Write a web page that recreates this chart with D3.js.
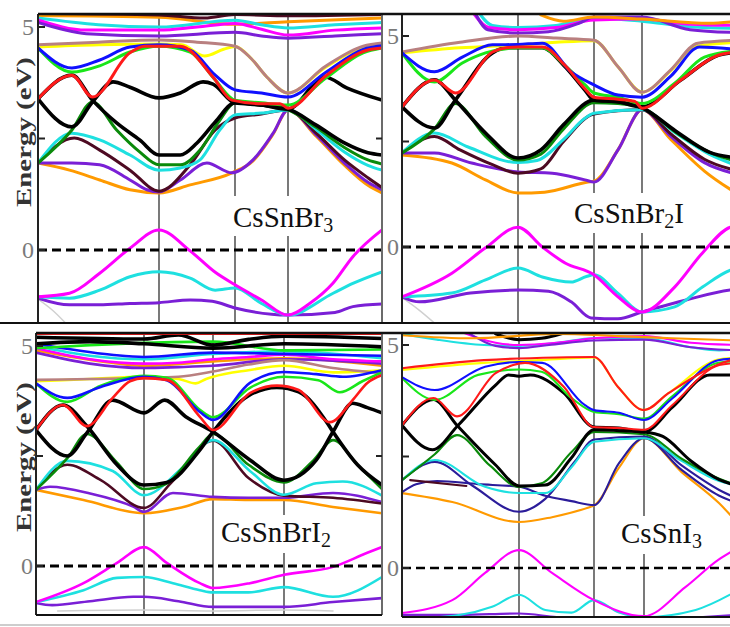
<!DOCTYPE html>
<html><head><meta charset="utf-8">
<script src="https://cdn.jsdelivr.net/npm/d3@7"></script>
<style>html,body{margin:0;padding:0;background:#fff}</style>
</head><body><svg id="chart" width="730" height="627"></svg>
<script>
// Band colours, keyed by short band names used in the data below
const bandColors = {
  mag:"#ff00ff", cyn:"#1ee0e0", vio:"#7a1fd6", ind:"#2b1c9a", ora:"#ff9a00",
  mar:"#4d0a22", dgr:"#0a8a0a", blk:"#000000", red:"#ff1a1a", grn:"#19e619",
  blu:"#1010ff", yel:"#ffff00", brn:"#b98080", gry:"#d0d0d0"
};

// k is the path coordinate: integers are the high-symmetry points, E in eV
const bandsCsSnBr3 = [
  ["ora",[[0,5.26],[1,5.22],[2,5.06],[3,5.12],[4,5.2]]],
  ["cyn",[[0,5.2],[0.5,5.05],[1,5.0],[2,5.15],[2.5,5.05],[3,4.98],[3.5,5.05],[4,5.1]]],
  ["mag",[[0,5.16],[0.4,4.93],[1,4.93],[1.5,5.0],[2,5.08],[2.5,4.95],[3,4.82],[3.5,4.93],[4,4.98]]],
  ["vio",[[0,5.1],[0.4,4.85],[1,4.8],[2,4.88],[2.5,4.8],[3,4.75],[3.5,4.8],[4,4.85]]],
  ["mar",[[0,5.3],[1,5.27],[1.6,5.2],[2,5.28],[3,5.25],[4,5.28]]],
  ["ora",[[0,1.95],[0.26,1.79],[0.51,1.57],[0.76,1.35],[1,1.28],[1.41,1.46],[1.96,1.73],[2.34,2.0],[2.72,2.6],[3,3.14],[3.3,2.55],[3.6,1.9],[3.85,1.45],[4,1.28]]],
  ["vio",[[0,1.95],[0.28,1.95],[0.51,1.91],[0.76,1.57],[0.9,1.35],[1,1.3],[1.28,1.57],[1.63,1.95],[1.96,1.73],[2.34,2.02],[2.72,2.62],[3,3.14],[3.3,2.58],[3.6,1.95],[3.85,1.52],[4,1.35]]],
  ["mar",[[0,1.95],[0.3,2.51],[0.51,2.24],[0.76,1.79],[1,1.32],[1.41,1.91],[1.74,2.69],[2,2.96],[2.5,3.05],[3,3.14],[3.3,2.62],[3.6,2.02],[3.85,1.62],[4,1.4]]],
  ["cyn",[[0,1.95],[0.28,2.62],[0.51,2.47],[0.76,2.13],[1,1.79],[1.28,1.84],[1.54,2.02],[1.8,2.69],[2,3.03],[2.5,3.07],[3,3.14],[3.3,2.7],[3.6,2.2],[3.85,1.9],[4,1.79]]],
  ["dgr",[[0,1.95],[0.28,2.69],[0.45,3.32],[0.65,2.69],[0.84,2.2],[1,1.91],[1.28,1.91],[1.54,2.24],[1.8,2.91],[2,3.3],[2.5,3.25],[3,3.14],[3.3,2.75],[3.6,2.3],[3.85,2.02],[4,1.93]]],
  ["blk",[[0,3.39],[0.28,3.92],[0.45,3.36],[0.65,2.85],[0.84,2.47],[1,2.13],[1.28,2.13],[1.5,2.4],[1.74,2.87],[2,3.3],[2.5,3.25],[3,3.16],[3.3,2.8],[3.6,2.4],[3.85,2.18],[4,2.13]]],
  ["blk",[[0,3.39],[0.28,2.76],[0.45,3.32],[0.62,3.77],[0.76,3.65],[1,3.41],[1.28,3.52],[1.58,3.77],[1.71,3.72],[2,3.3],[2.5,3.25],[3,3.16],[3.39,3.88],[3.63,3.63],[4,3.36]]],
  ["yel",[[0,4.55],[0.5,4.6],[1,4.62],[1.3,4.6],[1.6,4.35],[1.85,4.5],[2,4.56],[2.3,4.3],[2.6,3.88],[3,3.52],[3.4,4.1],[3.8,4.55],[4,4.62]]],
  ["brn",[[0,4.6],[0.5,4.66],[1,4.71],[1.5,4.66],[2,4.57],[2.3,4.3],[2.6,3.88],[3,3.52],[3.4,4.12],[3.8,4.57],[4,4.64]]],
  ["grn",[[0,4.53],[0.28,3.99],[0.51,4.13],[0.76,4.44],[1,4.57],[1.41,4.44],[1.74,3.81],[2,3.36],[2.5,3.3],[3,3.25],[3.4,3.85],[3.8,4.42],[4,4.53]]],
  ["blu",[[0,4.53],[0.28,4.08],[0.51,4.26],[0.76,4.55],[1,4.6],[1.41,4.48],[1.74,3.92],[2,3.59],[2.5,3.52],[3,3.43],[3.4,3.98],[3.8,4.5],[4,4.58]]],
  ["red",[[0,3.39],[0.28,3.92],[0.45,3.43],[0.76,4.42],[0.88,4.57],[1,4.57],[1.28,4.57],[1.71,3.88],[1.96,3.36],[2.5,3.28],[2.85,3.28],[3,3.18],[3.4,3.9],[3.84,4.48],[4,4.53]]],
  ["gry",[[0,-1.1],[0.12,-1.35],[0.25,-1.7]]],
  ["vio",[[0,-1.08],[0.26,-1.23],[0.51,-1.23],[0.76,-1.2],[1,-1.18],[1.41,-1.12],[1.7,-1.15],[2,-1.3],[3,-1.46],[3.5,-1.4],[3.69,-1.27],[4,-1.21]]],
  ["cyn",[[0,-1.05],[0.26,-1.08],[0.51,-0.9],[0.76,-0.6],[1,-0.49],[1.41,-0.63],[1.74,-0.9],[2,-0.85],[2.5,-1.2],[3,-1.46],[3.48,-0.97],[3.69,-0.75],[4,-0.49]]],
  ["mag",[[0,-1.05],[0.26,-0.97],[0.51,-0.52],[0.76,0.04],[1,0.45],[1.41,-0.02],[1.74,-0.5],[2,-0.78],[2.5,-1.12],[3,-1.46],[3.23,-1.2],[3.48,-0.74],[3.69,-0.15],[4,0.45]]]
];

const bandsCsSnBr2I = [
  ["cyn",[[0.65,5.6],[0.78,5.25],[1,5.2],[1.5,5.25],[2,5.42],[3,5.35],[3.5,5.22],[4,5.18]]],
  ["mag",[[0.6,5.6],[0.75,5.2],[1,5.15],[1.5,5.2],[2,5.38],[3,5.4],[3.5,5.28],[4,5.25]]],
  ["vio",[[0.62,5.6],[0.74,5.15],[1,5.07],[1.4,5.1],[1.8,5.3],[2,5.45],[3,5.45],[3.5,5.15],[4,5.08]]],
  ["ora",[[1.3,5.5],[1.6,5.35],[2,5.45],[3,5.4],[3.7,5.3],[4,5.35]]],
  ["ora",[[0,2.18],[0.43,1.99],[0.72,1.59],[1,1.28],[1.35,1.3],[1.92,1.54],[2,1.56],[2.5,2.3],[3,3.25],[3.3,2.55],[3.65,1.8],[4,1.25]]],
  ["vio",[[0,2.23],[0.28,2.23],[0.6,1.99],[1,1.78],[1.45,1.75],[1.88,1.59],[2,1.54],[2.5,2.3],[3,3.25],[3.3,2.62],[3.65,2.0],[4,1.72]]],
  ["mar",[[0,2.23],[0.28,2.62],[0.5,2.3],[0.78,1.95],[1,1.75],[1.3,1.85],[1.6,2.5],[2,3.15],[3,3.25],[3.3,2.68],[3.65,2.08],[4,1.8]]],
  ["cyn",[[0,2.23],[0.28,2.7],[0.57,2.37],[1,2.0],[1.25,2.05],[1.6,2.55],[1.88,3.05],[2,3.17],[3,3.25],[3.35,2.7],[3.7,2.2],[4,1.92]]],
  ["dgr",[[0,2.23],[0.28,2.8],[0.46,3.4],[0.72,2.62],[1,2.06],[1.3,2.2],[1.6,2.8],[2,3.42],[2.5,3.4],[3,3.3],[3.35,2.72],[3.7,2.25],[4,2.02]]],
  ["blk",[[0,3.32],[0.28,3.96],[0.46,3.48],[0.72,2.7],[1,2.11],[1.3,2.3],[1.6,2.9],[2,3.48],[2.5,3.44],[3,3.3],[3.35,2.75],[3.7,2.25],[4,2.11]]],
  ["blk",[[0,3.32],[0.28,2.82],[0.46,3.48],[0.78,4.6],[0.9,4.72],[1,4.72],[1.32,4.72],[1.62,4.27],[1.88,3.72],[2,3.48],[2.5,3.44],[3,3.32],[3.4,3.95],[3.8,4.55],[4,4.62]]],
  ["yel",[[0,4.6],[0.5,4.72],[1,4.79],[1.5,4.85],[2,4.89],[2.5,4.27],[3,3.67],[3.3,4.18],[3.55,4.75],[4,4.85]]],
  ["brn",[[0,4.62],[0.5,4.85],[1,5.0],[1.5,4.95],[2,4.9],[2.5,4.27],[3,3.67],[3.3,4.2],[3.58,4.83],[4,4.9]]],
  ["grn",[[0,4.6],[0.28,3.91],[0.52,4.36],[0.72,4.6],[1,4.72],[1.32,4.72],[1.62,4.3],[1.88,3.85],[2,3.65],[2.5,3.55],[3,3.4],[3.35,3.9],[3.65,4.5],[4,4.65]]],
  ["blu",[[0,4.6],[0.28,4.15],[0.52,4.5],[0.78,4.79],[1,4.8],[1.32,4.83],[1.7,4.15],[2,3.84],[2.5,3.6],[3,3.55],[3.3,4.05],[3.6,4.74],[4,4.68]]],
  ["red",[[0,3.32],[0.28,3.96],[0.46,3.65],[0.78,4.62],[0.9,4.72],[1,4.74],[1.32,4.74],[1.62,4.3],[1.88,3.75],[2,3.55],[2.5,3.5],[2.85,3.45],[3,3.29],[3.4,3.95],[3.8,4.55],[4,4.62]]],
  ["gry",[[0,-1.2],[0.15,-1.5],[0.3,-1.85]]],
  ["vio",[[0,-1.18],[0.15,-1.3],[0.59,-1.09],[1,-1.02],[1.4,-1.05],[1.7,-1.3],[1.96,-1.68],[2.5,-1.7],[3,-1.54],[3.45,-1.26],[3.92,-1.02],[4,-1.0]]],
  ["cyn",[[0,-1.18],[0.43,-1.09],[0.72,-0.78],[1,-0.5],[1.32,-0.71],[1.7,-0.83],[1.9,-0.7],[2,-0.66],[2.5,-1.1],[3,-1.54],[3.34,-1.42],[3.63,-0.95],[3.92,-0.55],[4,-0.5]]],
  ["mag",[[0,-1.18],[0.43,-0.62],[0.72,-0.02],[1,0.47],[1.32,0.0],[1.62,-0.38],[2,-0.66],[2.5,-1.18],[3,-1.54],[3.34,-0.95],[3.63,-0.14],[3.92,0.47],[4,0.5]]]
];

const bandsCsSnBrI2 = [
  ["ora",[[0,4.9],[0.7,4.62],[1,4.55],[2,4.65],[3,4.72],[4,4.55]]],
  ["vio",[[0,4.85],[0.5,4.6],[1,4.5],[1.5,4.52],[2,4.55],[3,4.7],[4,4.6]]],
  ["mag",[[0,4.95],[0.5,4.7],[1,4.6],[1.5,4.62],[2,4.7],[2.5,4.75],[3,4.8],[3.5,4.7],[4,4.65]]],
  ["cyn",[[0,5.0],[0.5,4.78],[1,4.7],[2,4.82],[3,4.88],[4,4.72]]],
  ["blu",[[0,5.05],[0.7,4.8],[1,4.75],[2,4.85],[3,4.82],[4,4.78]]],
  ["grn",[[0,4.95],[0.5,5.02],[1,5.07],[2,5.1],[3,4.9],[4,4.92]]],
  ["blk",[[0,5.05],[0.5,5.1],[1,5.05],[2,4.95],[3,5.05],[4,4.98]]],
  ["blk",[[0,5.2],[1,5.16],[1.5,5.25],[2,5.02],[2.5,5.15],[3,5.22],[4,5.17]]],
  ["red",[[0,5.28],[2,5.28],[4,5.28]]],
  ["ora",[[0,1.73],[0.44,1.5],[1,1.2],[1.57,1.34],[2,1.52],[2.5,1.5],[3,1.5],[3.5,1.34],[4,1.2]]],
  ["vio",[[0,1.73],[0.13,1.8],[0.5,1.65],[0.9,1.35],[1,1.23],[1.42,1.66],[2,1.57],[2.5,1.55],[3,1.55],[3.5,1.66],[4,1.45]]],
  ["mar",[[0,1.73],[0.29,2.3],[0.6,1.95],[1,1.32],[1.4,1.9],[2,2.85],[2.5,2.0],[3,1.6],[3.5,1.55],[4,1.42]]],
  ["cyn",[[0,1.73],[0.29,2.39],[0.71,2.16],[1,1.61],[1.57,2.25],[2,2.86],[2.52,2.16],[3,1.62],[3.33,1.88],[3.6,1.92],[4,1.6]]],
  ["dgr",[[0,1.73],[0.29,2.45],[0.47,3.0],[0.75,2.35],[1,1.75],[1.3,1.85],[1.8,2.7],[2,3.0],[2.5,2.3],[3,1.9],[3.3,2.4],[3.5,2.86],[3.75,2.3],[4,1.75]]],
  ["blk",[[0,3.09],[0.29,2.5],[0.47,3.02],[0.71,3.77],[1,3.48],[1.3,3.77],[1.6,3.4],[2,3.05],[2.52,2.41],[3,1.95],[3.33,2.41],[3.5,3.05],[3.7,3.7],[3.85,3.6],[4,3.48]]],
  ["blk",[[0,3.09],[0.25,3.66],[0.47,3.18],[0.75,2.3],[1,1.84],[1.33,1.9],[1.81,2.64],[2,3.05],[2.5,3.87],[2.9,4.06],[3.15,3.96],[3.45,3.22],[3.5,3.05],[3.75,2.3],[4,1.84]]],
  ["yel",[[0,4.2],[0.5,4.25],[1,4.3],[1.5,4.25],[1.75,4.15],[1.9,4.25],[2,4.3],[2.5,4.45],[3,4.55],[3.5,4.4],[4,4.45]]],
  ["brn",[[0,4.23],[0.5,4.25],[1,4.27],[1.5,4.3],[2,4.42],[2.5,4.58],[3,4.68],[3.5,4.5],[4,4.38]]],
  ["grn",[[0,4.15],[0.29,3.73],[0.6,4.1],[0.9,4.3],[1,4.32],[1.33,4.28],[1.81,3.55],[2,3.38],[2.52,4.05],[3,4.3],[3.35,4.22],[3.57,3.95],[3.8,4.2],[4,4.4]]],
  ["blu",[[0,4.15],[0.29,3.82],[0.6,4.07],[1,4.3],[1.33,4.22],[1.81,3.5],[2,3.32],[2.52,4.16],[3,4.41],[3.33,4.36],[3.6,4.3],[4,4.45]]],
  ["red",[[0,3.09],[0.25,3.66],[0.47,3.18],[0.71,3.82],[0.87,4.2],[1,4.27],[1.33,4.23],[1.81,3.39],[2,3.09],[2.52,3.93],[2.9,4.1],[3.15,4.0],[3.47,3.27],[3.7,3.77],[3.85,4.16],[4,4.34]]],
  ["gry",[[0.2,-1.02],[1,-1.0],[2,-1.02],[3,-1.0],[3.5,-1.02]]],
  ["vio",[[0,-0.84],[0.15,-0.89],[0.5,-0.8],[0.9,-0.7],[1,-0.7],[1.5,-0.8],[2,-0.93],[3,-0.93],[3.5,-0.82],[4,-0.73]]],
  ["cyn",[[0,-0.82],[0.44,-0.55],[0.75,-0.27],[1,-0.25],[1.42,-0.39],[1.81,-0.55],[2,-0.6],[2.5,-0.6],[3,-0.48],[3.5,-0.7],[4,-0.25]]],
  ["mag",[[0,-0.82],[0.44,-0.39],[0.75,0.07],[1,0.43],[1.33,0.07],[1.81,-0.39],[2,-0.5],[2.52,-0.39],[3,-0.2],[3.5,-0.02],[3.85,0.3],[4,0.43]]]
];

const bandsCsSnI3 = [
  ["cyn",[[0,5.25],[0.3,5.12],[0.7,5.0],[1,4.98],[1.5,5.05],[2,5.15],[3,5.15],[3.5,4.95],[3.8,4.88],[4,4.9]]],
  ["mag",[[0.5,5.3],[0.8,5.05],[1,5.0],[1.5,5.05],[2,5.15],[3,5.2],[3.5,5.05],[4,5.0]]],
  ["vio",[[0.55,5.3],[0.8,4.98],[1,4.93],[1.4,5.0],[2,5.1],[3,5.12],[3.5,4.95],[4,4.88]]],
  ["blk",[[0.8,5.25],[1,5.12],[1.3,5.15],[1.6,5.27]]],
  ["ora",[[0,5.22],[0.6,5.15],[1.5,5.25],[2.5,5.2],[3.3,5.15],[4,5.1]]],
  ["ora",[[0,1.68],[0.43,1.48],[1,1.03],[1.44,1.14],[1.95,1.37],[2,1.4],[2.5,2.25],[3,2.91],[3.4,2.15],[3.8,1.45],[4,1.0]]],
  ["ind",[[0,1.7],[0.12,1.88],[0.3,1.95],[0.65,1.88],[1,1.82],[1.35,1.62],[1.7,1.5],[2,1.41],[2.5,2.35],[3,2.91],[3.4,2.2],[3.8,1.62],[4,1.45]]],
  ["mar",[[0.07,1.97],[0.55,1.84]]],
  ["ind",[[0,1.97],[0.28,2.38],[0.6,1.85],[1,1.26],[1.35,1.55],[1.75,2.4],[2,2.88],[3,2.95],[3.4,2.3],[3.8,1.75],[4,1.55]]],
  ["cyn",[[0,1.97],[0.28,2.42],[0.71,1.82],[1,1.68],[1.35,1.68],[1.7,2.26],[2,2.83],[3,2.91],[3.4,2.4],[3.8,1.95],[4,1.85]]],
  ["dgr",[[0,1.97],[0.28,2.55],[0.47,2.98],[0.75,2.3],[1,1.82],[1.3,1.9],[1.7,2.6],[2,3.05],[3,3.0],[3.4,2.45],[3.8,2.0],[4,1.85]]],
  ["blk",[[0,3.2],[0.27,3.78],[0.47,3.2],[0.8,2.31],[1,1.84],[1.35,1.86],[1.7,2.47],[2,3.1],[2.5,3.08],[3,3.05],[3.2,2.95],[3.5,2.4],[3.8,1.98],[4,1.84]]],
  ["blk",[[0,3.2],[0.26,2.65],[0.48,3.2],[0.8,4.1],[0.91,4.33],[1,4.3],[1.15,4.33],[1.6,3.92],[2,3.16],[2.5,3.14],[3,3.05],[3.3,3.6],[3.7,4.33],[4,4.33]]],
  ["yel",[[0,4.44],[0.7,4.6],[1.25,4.66],[2,4.72],[2.48,4.06],[3,3.54],[3.26,3.92],[3.8,4.68],[4,4.72]]],
  ["grn",[[0,4.26],[0.28,3.77],[0.65,4.33],[1,4.45],[1.3,4.4],[1.7,3.81],[2,3.5],[2.5,3.45],[3,3.35],[3.3,3.85],[3.79,4.6],[4,4.64]]],
  ["blu",[[0,4.28],[0.28,3.99],[0.71,4.51],[1,4.62],[1.31,4.6],[1.88,3.65],[2,3.54],[2.5,3.48],[3,3.32],[3.3,3.8],[3.79,4.66],[4,4.7]]],
  ["red",[[0,3.2],[0.27,3.81],[0.47,3.4],[0.8,4.37],[0.95,4.55],[1.08,4.6],[1.6,4.06],[2,3.16],[2.5,3.14],[3,3.1],[3.3,3.65],[3.8,4.55],[4,4.6]]],
  ["red",[[0,4.48],[0.7,4.66],[1.5,4.72],[2,4.73],[2.48,4.06],[3,3.54],[3.26,3.92],[3.92,4.66],[4,4.7]]],
  ["vio",[[0,-1.05],[0.5,-1.05],[1,-1.02],[1.5,-1.1],[2,-1.15],[3,-1.15],[4,-1.05]]],
  ["cyn",[[0,-1.15],[0.5,-1.05],[0.77,-0.87],[1,-0.6],[1.35,-0.94],[1.7,-1.0],[2,-0.72],[2.5,-1.0],[3,-1.1],[3.55,-0.94],[4,-0.5]]],
  ["mag",[[0,-1.01],[0.43,-0.72],[0.71,-0.11],[1,0.4],[1.44,-0.11],[2,-0.72],[3,-1.08],[3.44,-0.43],[3.79,0.18],[4,0.45]]]
];

// Compound names: [main text, subscript] pairs
const compoundNames = [
  [["CsSnBr",""],["","3"]],
  [["CsSnBr",""],["","2"],["I",""]],
  [["CsSnBrI",""],["","2"]],
  [["CsSnI",""],["","3"]]
];
const energyTicks = [0, 2.5, 5];
const energyTickLabels = ["0", "", "5"];
const bandSets = [bandsCsSnBr3, bandsCsSnBr2I, bandsCsSnBrI2, bandsCsSnI3];

// Panel geometry (pixels)
const panelLayout = [
  {kx:[38,159,235,288,382], top:14, bot:323, y0:250, y5:27, w:3, wb:3.6, zw:3.2,
   label:{x:233,y:227}, box:[228,196,114,40], tickX:34, title:{x:31,y:132}},
  {kx:[402,518,594,642,738], top:14, bot:323, y0:247, y5:36, w:3, wb:3.6, zw:3.2,
   label:{x:574,y:223}, box:[569,193,122,40], tickX:399},
  {kx:[36,144,213,284,382], top:333, bot:615, y0:566, y5:346, w:2.6, wb:3.6, zw:3,
   label:{x:221,y:542}, box:[216,515,130,38], tickX:33, title:{x:31,y:457}},
  {kx:[402,519,594,644,738], top:333, bot:617, y0:568, y5:345, w:2.1, wb:3, zw:2.4,
   label:{x:621,y:543}, box:[616,516,100,38], tickX:399}
];

const W = 730;
const svg = d3.select("#chart");
const defs = svg.append("defs");
const serif = "'Liberation Serif','Times New Roman',serif";

panelLayout.forEach((p, i) => {
  const x = d3.scaleLinear().domain([0,1,2,3,4]).range(p.kx);
  const y = d3.scaleLinear().domain([0,5]).range([p.y0, p.y5]);
  const xL = p.kx[0], xR = Math.min(p.kx[4], W);
  const g = svg.append("g");

  defs.append("clipPath").attr("id","clip"+i)
    .append("rect").attr("x",xL).attr("y",p.top).attr("width",xR-xL).attr("height",p.bot-p.top);

  // high-symmetry lines
  g.selectAll("line.hs").data([1,2,3]).join("line")
    .attr("x1",d=>x(d)).attr("x2",d=>x(d)).attr("y1",p.top).attr("y2",p.bot)
    .attr("stroke","#6b6b6b").attr("stroke-width",1.8);

  // white patch behind the compound name
  g.append("rect").attr("x",p.box[0]).attr("y",p.box[1]).attr("width",p.box[2]).attr("height",p.box[3])
    .attr("fill","#fff");

  // bands
  const line = d3.line().x(d=>x(d[0])).y(d=>y(d[1])).curve(d3.curveMonotoneX);
  g.append("g").attr("clip-path",`url(#clip${i})`)
    .selectAll("path").data(bandSets[i]).join("path")
    .attr("d",d=>line(d[1]))
    .attr("fill","none")
    .attr("stroke",d=>bandColors[d[0]])
    .attr("stroke-width",d=>d[0]==="blk"?p.wb:(d[0]==="gry"?1.5:p.w))
    .attr("stroke-linejoin","round").attr("stroke-linecap","round");

  // Fermi level
  g.append("line").attr("x1",xL).attr("x2",xR).attr("y1",y(0)).attr("y2",y(0))
    .attr("stroke","#000").attr("stroke-width",p.zw).attr("stroke-dasharray","9,5");

  // frame
  g.append("line").attr("x1",xL).attr("x2",xL).attr("y1",p.top).attr("y2",p.bot)
    .attr("stroke","#222").attr("stroke-width",2);
  if (p.kx[4] <= W) {
    g.append("line").attr("x1",xR).attr("x2",xR).attr("y1",p.top).attr("y2",p.bot)
      .attr("stroke","#6b6b6b").attr("stroke-width",2);
    g.append("line").attr("x1",xR).attr("x2",xR-6).attr("y1",y(2.5)).attr("y2",y(2.5))
      .attr("stroke","#222").attr("stroke-width",2);
  }

  // energy ticks
  g.selectAll("line.tk").data(energyTicks).join("line")
    .attr("x1",xL).attr("x2",xL+7).attr("y1",d=>y(d)).attr("y2",d=>y(d))
    .attr("stroke","#222").attr("stroke-width",2);
  g.selectAll("text.tl").data(energyTicks).join("text")
    .attr("x",p.tickX).attr("y",d=>y(d)).attr("dy","0.35em")
    .attr("text-anchor","end").attr("font-family",serif).attr("font-size",24)
    .attr("fill","#7a7a7a").text((d,j)=>energyTickLabels[j]);

  // compound name with subscripts
  const t = g.append("text").attr("x",p.label.x).attr("y",p.label.y)
    .attr("font-family",serif).attr("font-size",29).attr("fill","#111");
  let shift = 0;
  compoundNames[i].forEach(([main, sub]) => {
    if (main) { t.append("tspan").attr("dy", -shift).text(main); shift = 0; }
    if (sub) { t.append("tspan").attr("font-size",20).attr("dy", 5 - shift).text(sub); shift = 5; }
  });

  // axis title
  if (p.title) {
    svg.append("text")
      .attr("transform",`translate(${p.title.x},${p.title.y}) rotate(-90)`)
      .attr("text-anchor","middle").attr("font-family",serif).attr("font-weight","bold")
      .attr("font-size",22).attr("fill","#333")
      .attr("textLength",150).attr("lengthAdjust","spacingAndGlyphs")
      .text("Energy (eV)");
  }
});

// outer rules
const rules = [
  [38, W, 14, 14, 2.5, "#111"],
  [0, W, 323, 323, 2, "#111"],
  [36, W, 333, 333, 2.5, "#111"],
  [36, 382, 615, 615, 2, "#111"],
  [402, W, 617, 617, 2, "#111"],
  [0, W, 625, 625, 1.5, "#bdbdbd"]
];
svg.selectAll("line.rule").data(rules).join("line")
  .attr("x1",d=>d[0]).attr("x2",d=>d[1]).attr("y1",d=>d[2]).attr("y2",d=>d[3])
  .attr("stroke-width",d=>d[4]).attr("stroke",d=>d[5]);
</script>
</body></html>
